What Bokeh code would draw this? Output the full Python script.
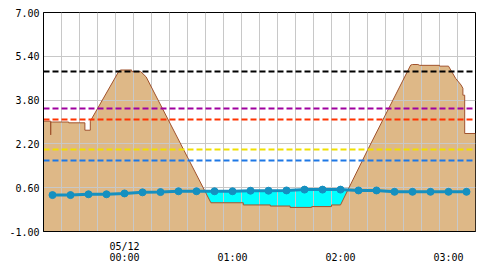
import numpy as np
import pandas as pd
from bokeh.plotting import figure
from bokeh.models import FixedTicker, Range1d, NumeralTickFormatter
from bokeh.embed import file_html
from bokeh.resources import INLINE

# ---------------- data ----------------
DAY_PREV = "2024-05-11"
DAY_NEXT = "2024-05-12"

brown_times = ["23:15", "23:19", "23:19", "23:19", "23:20", "23:29", "23:29", "23:38",
               "23:38", "23:41", "23:41", "23:57", "23:58", "00:04", "00:04", "00:09",
               "00:12", "00:33", "00:48", "01:06", "01:06", "01:21", "01:21", "01:32",
               "01:32", "01:44", "01:44", "01:55", "01:55", "02:00", "02:15", "02:39",
               "02:40", "02:43", "02:44", "02:55", "02:55", "03:00", "03:04", "03:07",
               "03:08", "03:08", "03:09", "03:09", "03:15"]
brown_values = [3.03, 3.03, 2.53, 3.00, 3.00, 3.00, 2.97, 2.97,
                2.70, 2.70, 3.03, 4.87, 4.90, 4.90, 4.84, 4.84,
                4.65, 1.97, 0.05, 0.05, -0.03, -0.03, -0.07, -0.07,
                -0.12, -0.12, -0.09, -0.09, -0.03, -0.03, 1.97, 5.08,
                5.10, 5.10, 5.07, 5.07, 5.04, 5.04, 4.59, 4.35,
                4.23, 3.98, 3.98, 2.58, 2.58]

blue_times = ["23:20", "23:30", "23:40", "23:50", "00:00", "00:10", "00:20", "00:30",
              "00:40", "00:50", "01:00", "01:10", "01:20", "01:30", "01:40", "01:50",
              "02:00", "02:10", "02:20", "02:30", "02:40", "02:50", "03:00", "03:10"]
blue_values = [0.33, 0.33, 0.36, 0.36, 0.39, 0.43, 0.44, 0.47,
               0.47, 0.47, 0.47, 0.49, 0.49, 0.50, 0.53, 0.53,
               0.53, 0.50, 0.50, 0.45, 0.45, 0.45, 0.45, 0.45]

level_values = [4.83, 3.50, 3.10, 2.00, 1.60]
level_colors = ["#000000", "#a000a0", "#ff3300", "#f0e000", "#1e78e6"]

y_ticks = [-1.0, 0.6, 2.2, 3.8, 5.4, 7.0]
x_tick_times = ["00:00", "01:00", "02:00", "03:00"]
x_tick_labels = ["05/12\n00:00", "\n01:00", "\n02:00", "\n03:00"]
x_start, x_end = "23:15", "03:15"


def to_ms(hhmm_list):
    stamps = [(DAY_PREV if int(t[:2]) >= 12 else DAY_NEXT) + " " + t for t in hhmm_list]
    return pd.to_datetime(stamps).values.astype("datetime64[ms]").astype("int64").astype(float)


bt = to_ms(brown_times)
bv = np.array(brown_values)
lt = to_ms(blue_times)
lv = np.array(blue_values)
x0, x1 = to_ms([x_start, x_end])

# ---------------- figure ----------------
p = figure(width=480, height=265, output_backend="svg", toolbar_location=None,
           x_axis_type="datetime",
           x_range=Range1d(x0, x1), y_range=Range1d(y_ticks[0], y_ticks[-1]),
           min_border_left=43, min_border_right=5, min_border_top=12, min_border_bottom=34)
p.background_fill_color = "white"
p.border_fill_color = "white"
p.outline_line_color = "black"
p.outline_line_width = 1

# tan area below the observed curve
p.varea(x=bt, y1=np.full(len(bt), y_ticks[0]), y2=bv, fill_color="#deb887", level="image")

# cyan area between curve and the blue series where the curve lies below it
xs = np.arange(lt[0], lt[-1] + 1, 6000.0)
b_i = np.interp(xs, bt, bv)
l_i = np.interp(xs, lt, lv)
p.varea(x=xs, y1=b_i, y2=np.maximum(b_i, l_i), fill_color="#00ffff", level="image")

p.line(bt, bv, line_color="#a0522d", line_width=1)

p.hspan(y=level_values, line_color=level_colors, line_width=2, line_dash="6 3")

p.line(lt, lv, line_color="#1590c0", line_width=3)
p.scatter(lt, lv, size=7, fill_color="#1590c0", line_color="#1590c0")

# ---------------- axes / grid ----------------
p.yaxis.ticker = FixedTicker(ticks=y_ticks)
p.yaxis.formatter = NumeralTickFormatter(format="0.00")
p.yaxis.major_label_standoff = 4

x_tick_ms = list(to_ms(x_tick_times))
p.xaxis.ticker = FixedTicker(ticks=x_tick_ms)
p.xaxis.major_label_overrides = {float(k): v for k, v in zip(x_tick_ms, x_tick_labels)}
p.xaxis.major_label_standoff = 9
p.xaxis.major_label_text_line_height = 1.0

grid_ms = pd.date_range(pd.Timestamp(int(x0), unit="ms"), pd.Timestamp(int(x1), unit="ms"),
                        freq="10min").values.astype("datetime64[ms]").astype("int64").astype(float)
p.xgrid.ticker = FixedTicker(ticks=list(grid_ms))

for ax in (p.xaxis, p.yaxis):
    ax.axis_line_color = "black"
    ax.major_tick_line_color = None
    ax.minor_tick_line_color = None
    ax.major_tick_out = 0
    ax.major_tick_in = 0
    ax.major_label_text_font = "DejaVu Sans Mono"
    ax.major_label_text_font_size = "10px"
    ax.major_label_text_color = "black"

p.grid.grid_line_color = "#c8c8c8"
p.grid.grid_line_width = 1

open("out.html", "w").write(file_html(p, INLINE))
